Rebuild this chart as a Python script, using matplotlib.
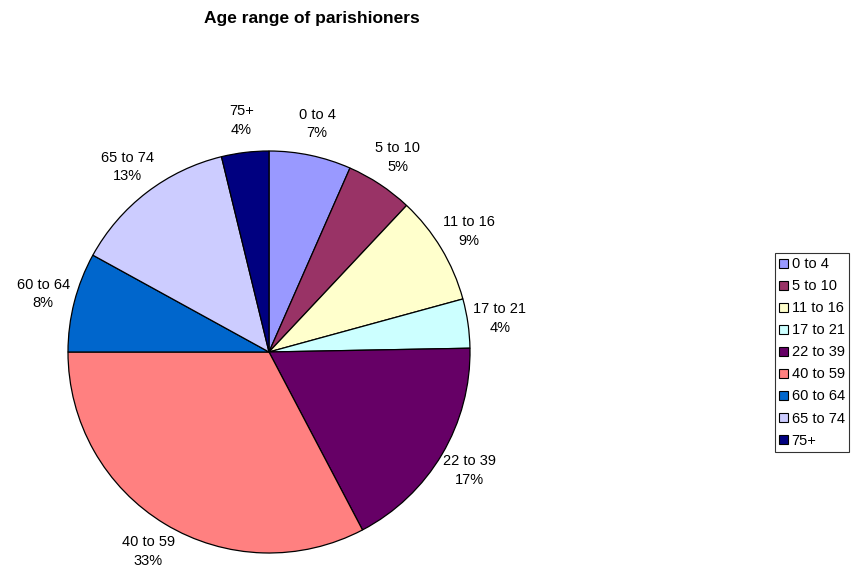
import numpy as np
import matplotlib

matplotlib.use("Agg")
import matplotlib.pyplot as plt
from matplotlib.patches import Patch

plt.rcParams["font.family"] = ["Liberation Sans", "DejaVu Sans"]

groups = ["0 to 4", "5 to 10", "11 to 16", "17 to 21", "22 to 39",
          "40 to 59", "60 to 64", "65 to 74", "75+"]
shares = [6.6, 5.4, 8.75, 3.95, 17.6, 32.7, 8.0, 13.2, 3.8]
pct_labels = ["7%", "5%", "9%", "4%", "17%", "33%", "8%", "13%", "4%"]
colors = ["#9999FF", "#993366", "#FFFFCC", "#CCFFFF", "#660066",
          "#FF8080", "#0066CC", "#CCCCFF", "#000080"]

W, H = 851, 569
fig = plt.figure(figsize=(W / 100, H / 100), dpi=100)
cx, cy, r = 269, 352, 201
ax = fig.add_axes([(cx - r) / W, (H - cy - r) / H, 2 * r / W, 2 * r / H])
wedges, _ = ax.pie(shares, colors=colors, startangle=90, counterclock=False,
                   radius=1.0, wedgeprops=dict(edgecolor="black", linewidth=0.9))
ax.set_xlim(-1, 1)
ax.set_ylim(-1, 1)
ax.set_aspect("equal")
ax.axis("off")

for w, g, p in zip(wedges, groups, pct_labels):
    mid = np.deg2rad((w.theta1 + w.theta2) / 2)
    d = 1.16
    ax.text(d * np.cos(mid), d * np.sin(mid), f"{g}\n{p}", ha="center",
            va="center", fontsize=10.5, linespacing=1.42, clip_on=False)

fig.text(312 / W, 1 - 18 / H, "Age range of parishioners", ha="center",
         va="center", fontsize=12.5, fontweight="bold")

handles = [Patch(facecolor=c, edgecolor="black", linewidth=0.8) for c in colors]
leg = fig.legend(handles, groups, loc="upper right",
                 bbox_to_anchor=(849 / W, 1 - 253 / H), fontsize=10.5,
                 frameon=True, fancybox=False, handlelength=0.6,
                 handleheight=0.6, handletextpad=0.25, labelspacing=0.55,
                 borderpad=0.3, borderaxespad=0)
leg.get_frame().set_edgecolor("black")
leg.get_frame().set_linewidth(0.8)

fig.savefig("out.png", dpi=100)
